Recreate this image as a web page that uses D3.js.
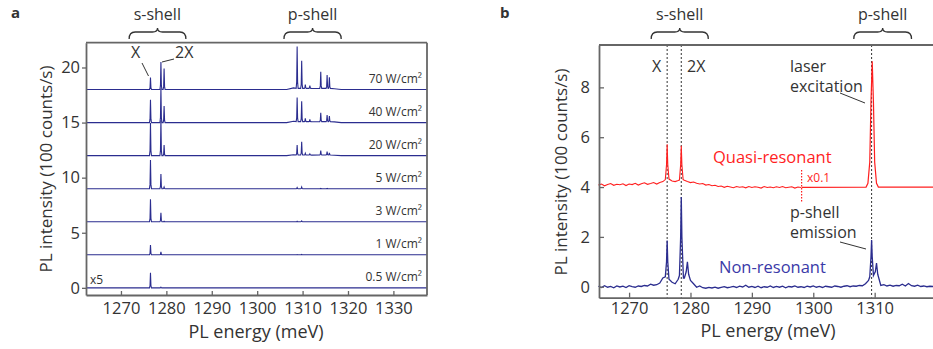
<!DOCTYPE html>
<html lang="en">
<head>
<meta charset="UTF-8">
<title>PL spectra</title>
<script src="https://d3js.org/d3.v7.min.js"></script>
<style>
  body { margin: 0; background: #fff; font-family: "Open Sans", Arial, sans-serif; }
  svg text { fill: #333; }
</style>
</head>
<body>
<svg width="933" height="349"></svg>
<script>
// ---------- panel a data ----------
const powers = ["0.5 W/cm²", "1 W/cm²", "3 W/cm²", "5 W/cm²", "20 W/cm²", "40 W/cm²", "70 W/cm²"];
const offsets = [0, 3, 6, 9, 12, 15, 18];
const peakE = [1276.5, 1278.8, 1279.5, 1308.8, 1309.8, 1310.6, 1311.6, 1314.0, 1315.4, 1315.9];
const peakH = [
  [1.37, 0.06, 0, 0, 0, 0, 0, 0, 0, 0],
  [0.88, 0.27, 0, 0.02, 0.03, 0, 0, 0, 0, 0],
  [2.04, 0.82, 0.05, 0.04, 0.07, 0, 0, 0, 0, 0],
  [2.6, 1.34, 0.15, 0.1, 0.15, 0, 0, 0.03, 0.02, 0],
  [2.95, 3.2, 0.97, 0.9, 1.2, 0.15, 0.1, 0.4, 0.3, 0.2],
  [2.06, 3.1, 1.5, 2.2, 1.85, 0.3, 0.2, 0.8, 0.6, 0.5],
  [1.1, 2.5, 1.9, 3.8, 2.5, 0.35, 0.25, 1.5, 1.2, 1.0]
];
const pedestal = [0, 0, 0, 0, 0.08, 0.12, 0.15];
const xTicksA = [1270, 1280, 1290, 1300, 1310, 1320, 1330];
const yTicksA = [0, 5, 10, 15, 20];

// ---------- panel b data ----------
const gridRed = d3.range(1265, 1298.01, 0.5);
const redNoise = [
  4.08, 4.12, 4.05, 4.10, 4.14, 4.07, 4.11, 4.09, 4.13, 4.06,
  4.12, 4.10, 4.15, 4.08, 4.13, 4.17, 4.11, 4.14, 4.18, 4.12,
  4.18, 4.22, 4.28, 4.30, 4.24, 4.22, 4.26, 4.30, 4.27, 4.22,
  4.18, 4.20, 4.15, 4.12, 4.14, 4.08, 4.10, 4.05, 4.07, 4.02,
  4.04, 3.99, 4.03, 4.00, 3.97, 4.02, 3.99, 4.01, 3.97, 4.02,
  3.98, 4.01, 3.99, 3.96, 4.02, 3.98, 4.00, 3.97, 4.01, 3.98,
  4.02, 3.97, 3.99, 4.01, 3.96, 4.00, 3.98
];
const redPeaks = [
  [[1275.9, 4.30], [1276.1, 4.9], [1276.2, 5.72], [1276.3, 4.9], [1276.5, 4.32]],
  [[1278.2, 4.28], [1278.4, 4.9], [1278.5, 5.66], [1278.6, 4.9], [1278.8, 4.30]]
];
const redScaled = [
  [1298.1, 3.99], [1308.6, 4.0], [1308.9, 4.15], [1309.2, 5.0], [1309.4, 7.4], [1309.6, 9.05],
  [1309.8, 7.4], [1310.0, 5.0], [1310.3, 4.15], [1310.6, 4.0], [1319.5, 4.0]
];
const gridBlue = d3.range(1265, 1319.51, 0.5);
const blueNoise = [
  0.02, -0.03, 0.04, -0.02, 0.01, -0.04, 0.03, -0.01, 0.02, -0.03,
  0.04, 0.00, -0.02, 0.03, 0.01, 0.05, 0.03, 0.10, 0.06, 0.08,
  0.15, 0.35, 0.50, 0.25, 0.18, 0.12, 0.30, 0.40, 0.35, 0.40,
  0.25, 0.12, -0.02, 0.03, -0.04, -0.06, -0.03, -0.05, -0.02, -0.06,
  -0.03, 0.00, -0.04, -0.02, 0.01, -0.03, 0.02, -0.01, 0.06, -0.02,
  0.01, -0.03, 0.02, -0.04, 0.00, -0.02, 0.03, -0.03, 0.01, -0.02,
  0.02, -0.04, 0.01, -0.01, 0.03, -0.02, 0.00, -0.03, 0.02, -0.01,
  0.03, -0.02, 0.01, -0.03, 0.02, 0.00, -0.02, 0.03, 0.01, -0.02,
  0.02, 0.04, 0.00, 0.03, 0.02, 0.05, 0.04, 0.12, 0.25, 0.40,
  0.35, 0.20, 0.05, 0.08, 0.03, 0.06, 0.02, 0.05, 0.04, 0.10,
  0.03, 0.13, 0.04, 0.02, 0.06, 0.01, 0.03, 0.00, 0.02, 0.01
];
const bluePeaks = [
  [[1275.9, 0.4], [1276.1, 1.0], [1276.2, 1.85], [1276.3, 1.0], [1276.5, 0.3]],
  [[1278.2, 0.45], [1278.4, 2.0], [1278.5, 3.6], [1278.6, 2.0], [1278.85, 0.35]],
  [[1279.3, 0.6], [1279.5, 1.0], [1279.7, 0.5]],
  [[1309.2, 0.4], [1309.4, 1.2], [1309.5, 1.87], [1309.6, 1.2], [1309.8, 0.45],
   [1310.1, 0.6], [1310.3, 0.95], [1310.5, 0.5]]
];
const dotLines = [1276.2, 1278.5, 1309.5];
const xTicksB = [1270, 1280, 1290, 1300, 1310];
const yTicksB = [0, 2, 4, 6, 8];

const navy = "#2b2d8f", red = "#ff1f1f";
const svg = d3.select("svg");

// ---------- helpers ----------
function mergePeaks(grid, vals, peaks) {
  let pts = grid.map((e, i) => [e, vals[i]])
    .filter(p => !peaks.some(pk => p[0] >= pk[0][0] - 0.05 && p[0] <= pk[pk.length - 1][0] + 0.05));
  peaks.forEach(pk => pts = pts.concat(pk));
  return pts.sort((a, b) => a[0] - b[0]);
}

function brace(g, x1, x2, y) {
  const xm = (x1 + x2) / 2;
  g.append("path")
    .attr("d", `M${x1},${y + 7} Q${x1},${y} ${x1 + 6},${y} L${xm - 5},${y} Q${xm},${y} ${xm},${y - 4}
                Q${xm},${y} ${xm + 5},${y} L${x2 - 6},${y} Q${x2},${y} ${x2},${y + 7}`)
    .attr("fill", "none").attr("stroke", "#333").attr("stroke-width", 1.3);
}

function styleAxis(sel) {
  sel.select(".domain").attr("stroke", "#666").attr("stroke-width", 1.8);
  sel.selectAll(".tick line").attr("stroke", "#666").attr("stroke-width", 1.3);
  sel.selectAll(".tick text").style("font-family", "Open Sans").style("font-size", "16.5px").attr("fill", "#333");
}

const fmt = d3.format("d");

// ---------- panel a ----------
const xa = d3.scaleLinear().domain([1262.3, 1337.4]).range([86, 427]);
const ya = d3.scaleLinear().domain([-0.65, 22.25]).range([295, 42.7]);
const ga = svg.append("g");

const lineA = d3.line().x(d => xa(d[0])).y(d => ya(d[1]));
powers.forEach((p, i) => {
  const b = offsets[i];
  let pts = [[1262.3, b], [1306.5, b], [1308, b + pedestal[i]], [1312, b + pedestal[i] * 0.6],
             [1317, b + pedestal[i] * 0.5], [1318.5, b], [1337.4, b]];
  peakE.forEach((e, k) => {
    const h = peakH[i][k];
    if (h <= 0) return;
    const base = (e > 1307 && e < 1318) ? b + pedestal[i] * 0.7 : b;
    pts.push([e - 0.22, base], [e - 0.1, base + h * 0.15], [e, base + h], [e + 0.1, base + h * 0.15], [e + 0.22, base]);
  });
  pts.sort((a, c) => a[0] - c[0]);
  ga.append("path").attr("d", lineA(pts)).attr("fill", "none")
    .attr("stroke", navy).attr("stroke-width", 1.1);
  ga.append("text").attr("x", 422).attr("y", ya(b) - 7).attr("text-anchor", "end")
    .style("font-size", "12px").text(p);
});
ga.append("text").attr("x", 90).attr("y", 284).style("font-size", "12px").text("x5");

ga.append("g").attr("transform", `translate(0,${ya.range()[0]})`)
  .call(d3.axisBottom(xa).tickValues(xTicksA).tickFormat(fmt).tickSizeInner(-4).tickSizeOuter(0).tickPadding(7))
  .call(styleAxis);
ga.append("g").attr("transform", `translate(${xa.range()[0]},0)`)
  .call(d3.axisLeft(ya).tickValues(yTicksA).tickFormat(fmt).tickSizeInner(4).tickSizeOuter(0).tickPadding(2))
  .call(styleAxis);
ga.append("line").attr("x1", xa.range()[0]).attr("x2", xa.range()[1]).attr("y1", ya.range()[1]).attr("y2", ya.range()[1])
  .attr("stroke", "#666").attr("stroke-width", 1.8);
ga.append("line").attr("x1", xa.range()[1]).attr("x2", xa.range()[1]).attr("y1", ya.range()[0]).attr("y2", ya.range()[1])
  .attr("stroke", "#666").attr("stroke-width", 1.8);

ga.append("text").attr("transform", "translate(52,169) rotate(-90)").attr("text-anchor", "middle")
  .style("font-size", "17px").text("PL intensity (100 counts/s)");
ga.append("text").attr("x", 256).attr("y", 338).attr("text-anchor", "middle")
  .style("font-size", "18px").text("PL energy (meV)");
ga.append("text").attr("x", 11).attr("y", 18).style("font-size", "15px").style("font-weight", "bold").text("a");

brace(ga, xa(1271.8), xa(1284.3), 32);
brace(ga, xa(1305.9), xa(1318.5), 32);
ga.append("text").attr("x", xa(1278.0)).attr("y", 20).attr("text-anchor", "middle").style("font-size", "16px").text("s-shell");
ga.append("text").attr("x", xa(1312.2)).attr("y", 20).attr("text-anchor", "middle").style("font-size", "16px").text("p-shell");
ga.append("text").attr("x", 131).attr("y", 58).style("font-size", "16px").text("X");
ga.append("text").attr("x", 175).attr("y", 58).style("font-size", "16px").text("2X");
ga.append("line").attr("x1", 142).attr("y1", 63).attr("x2", 148.5).attr("y2", 76).attr("stroke", "#333").attr("stroke-width", 1);
ga.append("line").attr("x1", 174).attr("y1", 59).attr("x2", 162).attr("y2", 62).attr("stroke", "#333").attr("stroke-width", 1);

// ---------- panel b ----------
const xb = d3.scaleLinear().domain([1265.1, 1319.5]).range([599, 933]);
const yb = d3.scaleLinear().domain([-0.44, 9.7]).range([297.7, 45]);
const gb = svg.append("g");
const lineB = d3.line().x(d => xb(d[0])).y(d => yb(d[1]));

dotLines.forEach(e => {
  gb.append("line").attr("x1", xb(e)).attr("x2", xb(e)).attr("y1", yb.range()[1]).attr("y2", yb.range()[0])
    .attr("stroke", "#333").attr("stroke-width", 1).attr("stroke-dasharray", "2,2");
});

const redPts = mergePeaks(gridRed, redNoise, redPeaks);
gb.append("path").attr("d", lineB(redPts)).attr("fill", "none").attr("stroke", red).attr("stroke-width", 1.1);
gb.append("path").attr("d", lineB(redScaled)).attr("fill", "none").attr("stroke", red).attr("stroke-width", 1.2);
const bluePts = mergePeaks(gridBlue, blueNoise, bluePeaks);
gb.append("path").attr("d", lineB(bluePts)).attr("fill", "none").attr("stroke", navy).attr("stroke-width", 1.3);

gb.append("line").attr("x1", xb(1298.1)).attr("x2", xb(1298.1)).attr("y1", 170).attr("y2", 202)
  .attr("stroke", red).attr("stroke-width", 1.2).attr("stroke-dasharray", "1.5,1.5");
gb.append("text").attr("x", 807).attr("y", 182).style("font-size", "12px").style("fill", red).text("x0.1");

gb.append("g").attr("transform", `translate(0,${yb.range()[0]})`)
  .call(d3.axisBottom(xb).tickValues(xTicksB).tickFormat(fmt).tickSizeInner(-5).tickSizeOuter(0).tickPadding(5))
  .call(styleAxis);
gb.append("g").attr("transform", `translate(${xb.range()[0]},0)`)
  .call(d3.axisLeft(yb).tickValues(yTicksB).tickFormat(fmt).tickSizeInner(-5).tickSizeOuter(0).tickPadding(9))
  .call(styleAxis);
gb.append("line").attr("x1", xb.range()[0]).attr("x2", xb.range()[1]).attr("y1", yb.range()[1]).attr("y2", yb.range()[1])
  .attr("stroke", "#666").attr("stroke-width", 1.8);

gb.append("text").attr("transform", "translate(567,172) rotate(-90)").attr("text-anchor", "middle")
  .style("font-size", "17px").text("PL intensity (100 counts/s)");
gb.append("text").attr("x", 768).attr("y", 337).attr("text-anchor", "middle")
  .style("font-size", "18px").text("PL energy (meV)");
gb.append("text").attr("x", 500).attr("y", 18).style("font-size", "15px").style("font-weight", "bold").text("b");

brace(gb, xb(1273.6), xb(1282.9), 32);
brace(gb, xb(1306.6), xb(1316.0), 32);
gb.append("text").attr("x", xb(1278.25)).attr("y", 20).attr("text-anchor", "middle").style("font-size", "16px").text("s-shell");
gb.append("text").attr("x", xb(1311.3)).attr("y", 20).attr("text-anchor", "middle").style("font-size", "16px").text("p-shell");
gb.append("text").attr("x", 652).attr("y", 72).style("font-size", "16px").text("X");
gb.append("text").attr("x", 687).attr("y", 72).style("font-size", "16px").text("2X");

gb.append("text").attr("x", 790).attr("y", 72).style("font-size", "16px").text("laser");
gb.append("text").attr("x", 790).attr("y", 92).style("font-size", "16px").text("excitation");
gb.append("line").attr("x1", 840).attr("y1", 93).attr("x2", 865).attr("y2", 103).attr("stroke", "#333").attr("stroke-width", 1);
gb.append("text").attr("x", 790).attr("y", 218).style("font-size", "16px").text("p-shell");
gb.append("text").attr("x", 790).attr("y", 238).style("font-size", "16px").text("emission");
gb.append("line").attr("x1", 840).attr("y1", 242).attr("x2", 866).attr("y2", 249).attr("stroke", "#333").attr("stroke-width", 1);
gb.append("text").attr("x", 713).attr("y", 163).style("font-size", "16.5px").style("fill", red).text("Quasi-resonant");
gb.append("text").attr("x", 719).attr("y", 273).style("font-size", "16.5px").style("fill", "#3a3aa8").text("Non-resonant");
</script>
</body>
</html>
